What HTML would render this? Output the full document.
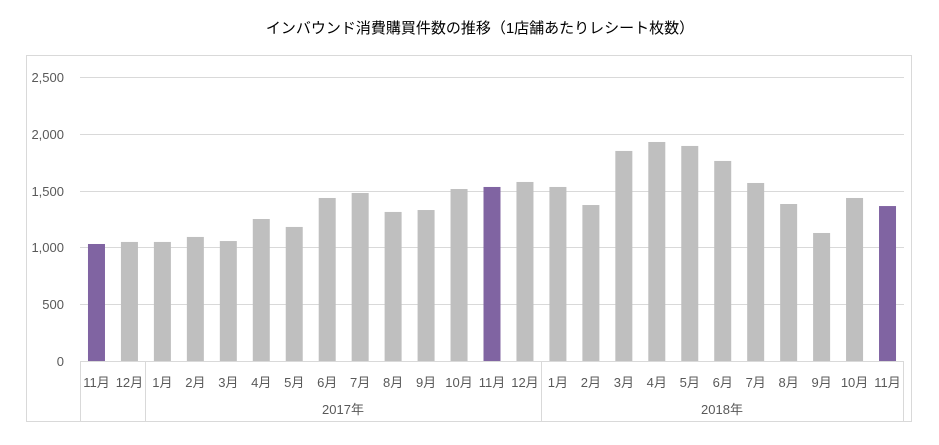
<!DOCTYPE html>
<html><head><meta charset="utf-8"><style>
body{margin:0;background:#fff;}
svg text{font-family:"Liberation Sans","Noto Sans CJK JP",sans-serif;}
</style></head><body>
<svg width="939" height="440" xmlns="http://www.w3.org/2000/svg">
<rect width="939" height="440" fill="#fff"/>
<text x="480" y="33" font-size="15" text-anchor="middle" fill="#000">インバウンド消費購買件数の推移（1店舗あたりレシート枚数）</text>
<rect x="26.5" y="55.5" width="885" height="366" fill="none" stroke="#d9d9d9"/>
<g stroke="#d9d9d9" stroke-width="1">
<line x1="80" x2="904" y1="77.5" y2="77.5"/>
<line x1="80" x2="904" y1="134.5" y2="134.5"/>
<line x1="80" x2="904" y1="191.5" y2="191.5"/>
<line x1="80" x2="904" y1="247.5" y2="247.5"/>
<line x1="80" x2="904" y1="304.5" y2="304.5"/>
<line x1="80" x2="904" y1="361.5" y2="361.5"/>
<line x1="80.5" x2="80.5" y1="361" y2="422"/>
<line x1="145.5" x2="145.5" y1="361" y2="422"/>
<line x1="541.5" x2="541.5" y1="361" y2="422"/>
<line x1="903.5" x2="903.5" y1="361" y2="422"/>
</g>
<g font-size="13" fill="#595959" text-anchor="end">
<text x="64" y="82">2,500</text><text x="64" y="139">2,000</text><text x="64" y="196">1,500</text>
<text x="64" y="252">1,000</text><text x="64" y="309">500</text><text x="64" y="366">0</text>
</g>
<g id="bars"></g>
<g id="lbl" font-size="13" fill="#595959" text-anchor="middle"></g>
<g font-size="13" fill="#595959" text-anchor="middle">
<text x="343" y="414">2017年</text><text x="722" y="414">2018年</text>
</g>
<script>
var v=[1030,1048,1048,1092,1056,1250,1180,1435,1479,1312,1329,1514,1532,1576,1532,1373,1849,1928,1893,1761,1567,1382,1127,1435,1364];
var m=["11月","12月","1月","2月","3月","4月","5月","6月","7月","8月","9月","10月","11月","12月","1月","2月","3月","4月","5月","6月","7月","8月","9月","10月","11月"];
var ns="http://www.w3.org/2000/svg",b=document.getElementById("bars"),l=document.getElementById("lbl");
for(var i=0;i<25;i++){var c=80+32.96*(i+0.5);var h=v[i]*0.1136;
var r=document.createElementNS(ns,"rect");r.setAttribute("x",c-8.5);r.setAttribute("width",17);r.setAttribute("y",361-h);r.setAttribute("height",h);
r.setAttribute("fill",(i==0||i==12||i==24)?"#8064a2":"#bfbfbf");b.appendChild(r);
var t=document.createElementNS(ns,"text");t.setAttribute("x",c);t.setAttribute("y",387);t.textContent=m[i];l.appendChild(t);}
</script>
</svg>
</body></html>
